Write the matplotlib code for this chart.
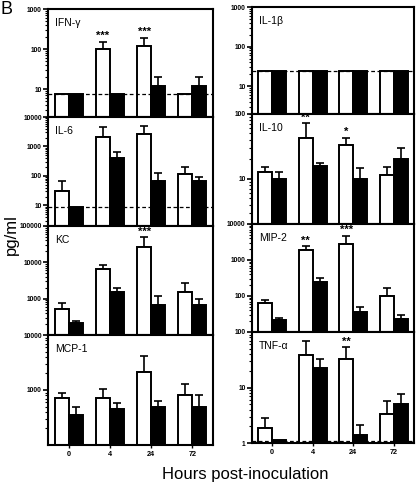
import numpy as np
import matplotlib
matplotlib.use("Agg")
import matplotlib.pyplot as plt
from matplotlib.ticker import FixedLocator, LogLocator, NullFormatter, FixedFormatter

plt.rcParams['font.family'] = ['Liberation Sans', 'DejaVu Sans']

# ----- Dati (pg/ml) -----
hours = ["0", "4", "24", "72"]

ifng_white = [7.5, 100, 120, 7.5]
ifng_white_err = [7.5, 150, 190, 7.5]
ifng_black = [7.5, 7.5, 12, 12]
ifng_black_err = [7.5, 7.5, 20, 20]
ifng_stars = ["", "***", "***", ""]

il6_white = [30, 2100, 2700, 117]
il6_white_err = [65, 4700, 5100, 205]
il6_black = [9, 400, 68, 66]
il6_black_err = [9, 670, 123, 90]
il6_stars = ["", "", "", ""]

kc_white = [510, 6600, 27000, 1550]
kc_white_err = [780, 8600, 49000, 2650]
kc_black = [210, 1500, 670, 680]
kc_black_err = [245, 1950, 1150, 990]
kc_stars = ["", "", "***", ""]

mcp1_white = [710, 710, 2140, 800]
mcp1_white_err = [900, 1060, 4200, 1270]
mcp1_black = [350, 445, 500, 490]
mcp1_black_err = [500, 590, 620, 800]
mcp1_stars = ["", "", "", ""]

il1b_white = [25, 25, 25, 25]
il1b_white_err = [25, 25, 25, 25]
il1b_black = [25, 25, 25, 25]
il1b_black_err = [25, 25, 25, 25]
il1b_stars = ["", "", "", ""]

il10_white = [12.8, 43, 33, 11.4]
il10_white_err = [15.3, 72, 43, 15]
il10_black = [10, 15.5, 10, 20]
il10_black_err = [12.7, 17.8, 14.9, 29.6]
il10_stars = ["", "**", "*", ""]

mip2_white = [62, 1950, 2800, 100]
mip2_white_err = [78, 2400, 4700, 165]
mip2_black = [21.6, 240, 37, 23.5]
mip2_black_err = [24, 320, 49, 29]
mip2_stars = ["", "**", "***", ""]

tnfa_white = [1.87, 38, 32, 3.3]
tnfa_white_err = [2.85, 68, 53, 5.7]
tnfa_black = [1.15, 22.6, 1.42, 5.05]
tnfa_black_err = [1.15, 32, 2.07, 7.6]
tnfa_stars = ["", "", "**", ""]

# nome, bianco, err, nero, err, stelle, ylim, ticks, limite di rilevazione
left_panels = [
    ("IFN-γ", ifng_white, ifng_white_err, ifng_black, ifng_black_err, ifng_stars, (2, 1000), [10, 100, 1000], 7.5),
    ("IL-6", il6_white, il6_white_err, il6_black, il6_black_err, il6_stars, (2, 10000), [10, 100, 1000, 10000], 9),
    ("KC", kc_white, kc_white_err, kc_black, kc_black_err, kc_stars, (100, 100000), [1000, 10000, 100000], None),
    ("MCP-1", mcp1_white, mcp1_white_err, mcp1_black, mcp1_black_err, mcp1_stars, (100, 10000), [1000, 10000], None),
]
right_panels = [
    ("IL-1β", il1b_white, il1b_white_err, il1b_black, il1b_black_err, il1b_stars, (2, 1000), [10, 100, 1000], 25),
    ("IL-10", il10_white, il10_white_err, il10_black, il10_black_err, il10_stars, (2, 100), [10, 100], None),
    ("MIP-2", mip2_white, mip2_white_err, mip2_black, mip2_black_err, mip2_stars, (10, 10000), [100, 1000, 10000], None),
    ("TNF-α", tnfa_white, tnfa_white_err, tnfa_black, tnfa_black_err, tnfa_stars, (1, 100), [1, 10, 100], 1.1),
]

W, H = 416, 484
left_edges = [9, 117, 226, 335, 445]
right_edges = [7, 114, 224, 332, 443]


def draw_panel(ax, panel, bottom_row):
    name, wv, we, bv, be, stars, ylim, ticks, lod = panel
    x = np.arange(len(hours))
    w = 0.34
    ymin = ylim[0]
    wv = np.array(wv, dtype=float)
    bv = np.array(bv, dtype=float)
    we = np.array(we, dtype=float)
    be = np.array(be, dtype=float)
    ax.set_yscale('log')
    ax.bar(x - w / 2, wv - ymin, bottom=ymin, width=w, color='white', edgecolor='black', linewidth=1.4, zorder=2)
    ax.bar(x + w / 2, bv - ymin, bottom=ymin, width=w, color='black', edgecolor='black', linewidth=1.4, zorder=2)
    for xs, v, e in ((x - w / 2, wv, we), (x + w / 2, bv, be)):
        m = e > v
        if m.any():
            ax.errorbar(xs[m], v[m], yerr=[np.zeros(m.sum()), (e - v)[m]], fmt='none',
                        ecolor='black', elinewidth=1.2, capsize=3, capthick=1.2, zorder=1)
    for i, s in enumerate(stars):
        if s:
            ax.annotate(s, (x[i] - w / 2, we[i]), xytext=(0, 0.5), textcoords='offset points',
                        ha='center', va='bottom', fontsize=8, fontweight='bold')
    if lod is not None:
        ax.axhline(lod, color='black', linestyle=(0, (3, 2)), linewidth=0.9, zorder=3)
    ax.set_ylim(*ylim)
    ax.set_xlim(-0.5, 3.5)
    ax.yaxis.set_major_locator(FixedLocator(ticks))
    ax.yaxis.set_major_formatter(FixedFormatter([str(t) for t in ticks]))
    ax.yaxis.set_minor_locator(LogLocator(base=10, subs=np.arange(2, 10), numticks=20))
    ax.yaxis.set_minor_formatter(NullFormatter())
    ax.tick_params(axis='y', which='major', direction='out', length=3.5, width=1.2, pad=1,
                   labelsize=4.8)
    ax.tick_params(axis='y', which='minor', direction='out', length=2, width=0.8)
    for lab in ax.get_yticklabels():
        lab.set_fontweight('bold')
    if bottom_row:
        ax.set_xticks(x)
        ax.set_xticklabels(hours, fontsize=5.2, fontweight='bold')
        ax.tick_params(axis='x', direction='out', length=2.5, width=1.0, pad=2)
    else:
        ax.set_xticks([])
    for sp in ax.spines.values():
        sp.set_linewidth(1.5)
    ax.text(0.045, 0.87, name, transform=ax.transAxes, fontsize=7.5, va='center')


def main():
    fig = plt.figure(figsize=(W / 100, H / 100), dpi=100)
    for col, panels, edges, x0, x1 in ((0, left_panels, left_edges, 48, 213),
                                       (1, right_panels, right_edges, 252, 414)):
        for i, p in enumerate(panels):
            top, bot = edges[i], edges[i + 1]
            ax = fig.add_axes([x0 / W, 1 - bot / H, (x1 - x0) / W, (bot - top) / H])
            draw_panel(ax, p, i == len(panels) - 1)

    fig.text(0 / W, 1 - 1 / H, "B", fontsize=13, ha='left', va='top')
    fig.text(11 / W, 1 - 235 / H, "pg/ml", fontsize=12, rotation=90, ha='center', va='center')
    fig.text(245 / W, 1 - 474 / H, "Hours post-inoculation", fontsize=12, ha='center', va='center')
    fig.savefig("out.png", dpi=100)


if __name__ == '__main__':
    main()
